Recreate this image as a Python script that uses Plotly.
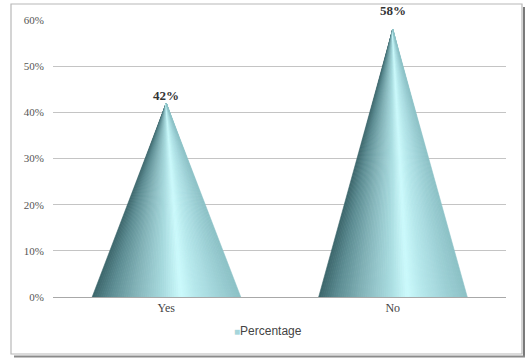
import plotly.graph_objects as go

# Survey result
categories = ["Yes", "No"]
percentages = [0.42, 0.58]
value_labels = ["42%", "58%"]
series_name = "Percentage"

W, H = 529, 360

# plot-area placement in pixels
PX_L, PX_R = 53, 506
PX_T, PX_B = 20, 297

def fx(px):
    return px / W

def fy(py):
    return 1 - py / H

# Cone shading: colour stops across the base, dark on the left, highlight right of centre
stops = [
    (0.00, (0x3c, 0x66, 0x6b)),
    (0.12, (0x5c, 0x8c, 0x92)),
    (0.30, (0x86, 0xb6, 0xbb)),
    (0.48, (0xa8, 0xdb, 0xdf)),
    (0.60, (0xcc, 0xfa, 0xfc)),
    (0.70, (0xb6, 0xe8, 0xec)),
    (0.88, (0x9c, 0xcf, 0xd4)),
    (1.00, (0x8c, 0xc1, 0xc6)),
]

def shade(t):
    for (t0, c0), (t1, c1) in zip(stops, stops[1:]):
        if t0 <= t <= t1:
            f = (t - t0) / (t1 - t0) if t1 > t0 else 0
            c = [round(a + (b - a) * f) for a, b in zip(c0, c1)]
            return "rgb(%d,%d,%d)" % tuple(c)
    return "rgb(%d,%d,%d)" % stops[-1][1]

half_w = 0.327   # half base width in category units
n_strips = 70

fig = go.Figure()

for k in range(n_strips):
    t0 = k / n_strips
    t1 = (k + 1) / n_strips
    xs, ys = [], []
    for i, v in enumerate(percentages):
        x0 = i - half_w + 2 * half_w * t0
        x1 = i - half_w + 2 * half_w * t1 + 0.002
        xs += [x0, x1, i, x0, None]
        ys += [0, 0, v, 0, None]
    col = shade((t0 + t1) / 2)
    fig.add_trace(go.Scatter(
        x=xs, y=ys, mode="lines", fill="toself", fillcolor=col,
        line=dict(width=0.6, color=col), hoverinfo="skip", showlegend=False,
    ))

# value labels above each apex
label_shift = [8, 19]
for i, (v, lab) in enumerate(zip(percentages, value_labels)):
    fig.add_annotation(
        x=i, y=v, text="<b>%s</b>" % lab, showarrow=False, yshift=label_shift[i],
        font=dict(family="Liberation Serif", size=13, color="#333333"),
    )

# compact legend key below the axis
fig.add_annotation(
    xref="paper", yref="paper", x=fx(268), y=fy(340), showarrow=False,
    text="<span style='color:#a6d6db;font-size:10px'>■</span>" + series_name,
    font=dict(family="Liberation Sans", size=12, color="#444444"),
)

# chart frame with drop shadow
shapes = [
    dict(type="line", xref="paper", yref="paper", x0=fx(524), x1=fx(524), y0=fy(7), y1=fy(357),
         line=dict(color="#7a7a7a", width=2), layer="below"),
    dict(type="line", xref="paper", yref="paper", x0=fx(14), x1=fx(525), y0=fy(356.5), y1=fy(356.5),
         line=dict(color="#8a8a8a", width=2), layer="below"),
    dict(type="rect", xref="paper", yref="paper", x0=fx(11), x1=fx(522), y0=fy(4), y1=fy(354),
         line=dict(color="#b8b8b8", width=1.2), fillcolor="white", layer="below"),
]

fig.update_layout(
    width=W, height=H,
    margin=dict(l=0, r=0, t=0, b=0, autoexpand=False),
    paper_bgcolor="white", plot_bgcolor="rgba(0,0,0,0)",
    shapes=shapes,
    showlegend=False,
    xaxis=dict(
        domain=[fx(PX_L), fx(PX_R)], range=[-0.5, 1.5], automargin=False,
        tickvals=list(range(len(categories))), ticktext=categories,
        showgrid=False, zeroline=False, showline=True, linecolor="#a8a8a8", linewidth=1,
        ticks="", tickfont=dict(family="Liberation Serif", size=12, color="#444444"),
        fixedrange=True,
    ),
    yaxis=dict(
        domain=[fy(PX_B), fy(PX_T)], range=[0, 0.6], automargin=False,
        tickvals=[0, 0.1, 0.2, 0.3, 0.4, 0.5, 0.6], tickformat=".0%",
        showgrid=True, gridcolor="#c4c4c4", gridwidth=1, zeroline=False,
        ticks="", ticklabelstandoff=8,
        tickfont=dict(family="Liberation Serif", size=11, color="#555555"),
        fixedrange=True,
    ),
)

fig.write_html("out.html")
